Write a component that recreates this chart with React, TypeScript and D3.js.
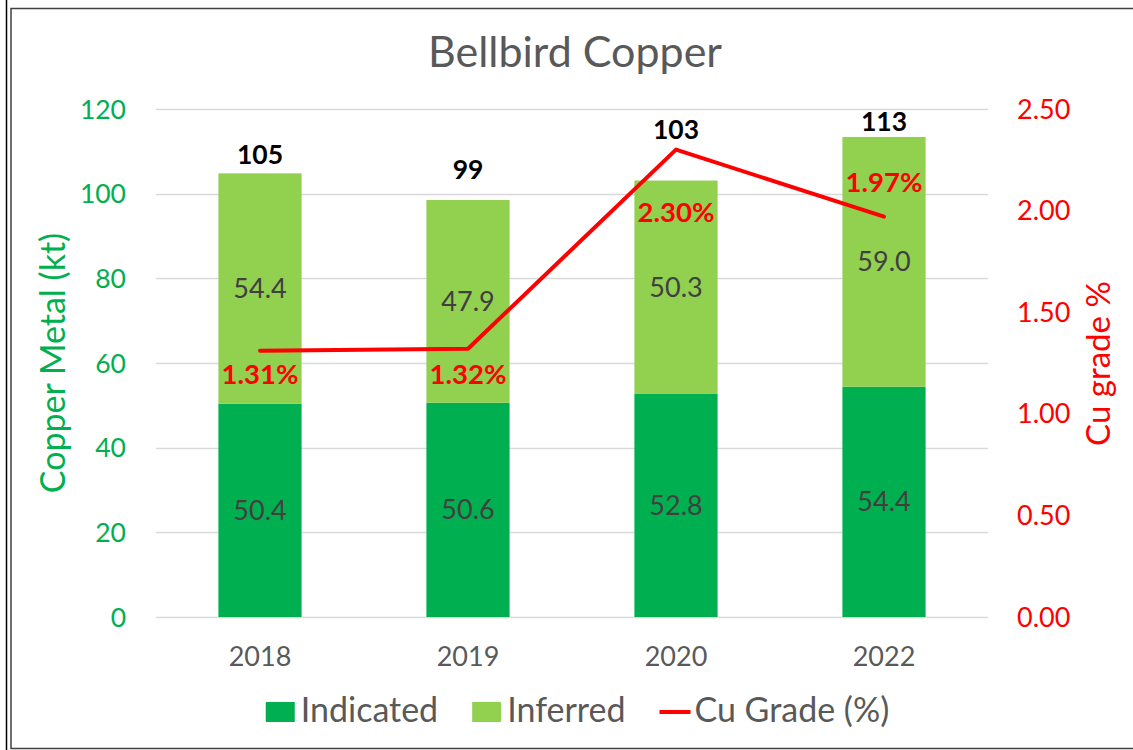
import React from 'react';
import * as d3 from 'd3';

const years = ['2018', '2019', '2020', '2022'];
const indicated = [50.4, 50.6, 52.8, 54.4];
const inferred = [54.4, 47.9, 50.3, 59.0];
const totals = [105, 99, 103, 113];
const grade = [1.31, 1.32, 2.3, 1.97];
const leftTicks = [0, 20, 40, 60, 80, 100, 120];
const rightTicks = [0, 0.5, 1, 1.5, 2, 2.5];
const seriesNames = ['Indicated', 'Inferred', 'Cu Grade (%)'];
// label anchors (data units) as they were hand-placed in the source chart
const totalLabelAt = [107.0, 103.5, 112.9, 114.8];
const gradeLabelAt = [1.147, 1.147, 1.944, 2.092];

const W = 1133;
const H = 750;
const FONT = "Lato, 'Open Sans', 'DejaVu Sans', sans-serif";
const C_IND = '#00B050';
const C_INF = '#92D050';
const C_LINE = '#FF0000';
const C_GRID = '#D9D9D9';
const C_TEXT = '#595959';
const C_SEG = '#404040';

const plot = { left: 156, right: 988, top: 109, bottom: 617 };

function measure(text: string, font: string): number {
  const c = document.createElement('canvas');
  const ctx = c.getContext('2d');
  if (!ctx) return text.length * 15;
  ctx.font = font;
  return ctx.measureText(text).width;
}

export default function App() {
  const x = d3
    .scaleBand<string>()
    .domain(years)
    .range([plot.left, plot.right])
    .paddingInner(0.6)
    .paddingOuter(0.3);
  const yL = d3.scaleLinear().domain([0, 120]).range([plot.bottom, plot.top]);
  const yR = d3.scaleLinear().domain([0, 2.5]).range([plot.bottom, plot.top]);
  const cx = (i: number) => (x(years[i]) as number) + x.bandwidth() / 2;

  const linePath = d3
    .line<number>()
    .x((_, i) => cx(i))
    .y((d) => yR(d))(grade) as string;

  // legend layout
  const legendFontSize = 34;
  const legendFont = `${legendFontSize}px Lato`;
  const sw = 29;
  const gapSwText = 6;
  const gapEntries = 34;
  const widths = seriesNames.map((n) => sw + gapSwText + measure(n, legendFont));
  const totalW = widths.reduce((a, b) => a + b, 0) + gapEntries * (seriesNames.length - 1);
  let lx = 577.5 - totalW / 2;
  const legendX: number[] = [];
  widths.forEach((w) => {
    legendX.push(lx);
    lx += w + gapEntries;
  });
  const legendBase = 722;

  return (
    <svg
      width={W}
      height={H}
      viewBox={`0 0 ${W} ${H}`}
      style={{ position: 'fixed', left: 0, top: 0, display: 'block', background: '#fff' }}
      fontFamily={FONT}
    >
      <rect x={0} y={0} width={W} height={H} fill="#fff" />
      {/* frame */}
      <line x1={6.5} y1={0} x2={6.5} y2={H} stroke="#000" strokeWidth={1.5} />
      <rect x={11} y={8.5} width={W + 20} height={740} fill="none" stroke="#404040" strokeWidth={1.5} />

      {/* title */}
      <text x={575} y={67} textAnchor="middle" fontSize={43} fill={C_TEXT}>
        Bellbird Copper
      </text>

      {/* gridlines */}
      {leftTicks.map((t) => (
        <line
          key={'g' + t}
          x1={plot.left}
          x2={plot.right}
          y1={Math.round(yL(t)) + 0.5}
          y2={Math.round(yL(t)) + 0.5}
          stroke={C_GRID}
          strokeWidth={1.3}
        />
      ))}

      {/* bars */}
      {years.map((yr, i) => (
        <g key={'b' + yr}>
          <rect
            x={x(yr)}
            width={x.bandwidth()}
            y={yL(indicated[i])}
            height={yL(0) - yL(indicated[i])}
            fill={C_IND}
          />
          <rect
            x={x(yr)}
            width={x.bandwidth()}
            y={yL(indicated[i] + inferred[i])}
            height={yL(indicated[i]) - yL(indicated[i] + inferred[i])}
            fill={C_INF}
          />
        </g>
      ))}

      {/* segment labels */}
      {years.map((yr, i) => (
        <g key={'sl' + yr} fontSize={27} fill={C_SEG} textAnchor="middle">
          <text x={cx(i)} y={(yL(0) + yL(indicated[i])) / 2 + 9.5}>
            {indicated[i].toFixed(1)}
          </text>
          <text x={cx(i)} y={(yL(indicated[i]) + yL(indicated[i] + inferred[i])) / 2 + 9.5}>
            {inferred[i].toFixed(1)}
          </text>
        </g>
      ))}

      {/* grade line */}
      <path d={linePath} fill="none" stroke={C_LINE} strokeWidth={4} strokeLinejoin="round" strokeLinecap="round" />

      {/* total labels */}
      {years.map((yr, i) => (
        <text
          key={'t' + yr}
          x={cx(i)}
          y={yL(totalLabelAt[i])}
          textAnchor="middle"
          fontSize={26.5}
          fontWeight={700}
          fill="#000"
        >
          {totals[i]}
        </text>
      ))}

      {/* grade labels */}
      {years.map((yr, i) => (
        <text
          key={'p' + yr}
          x={cx(i)}
          y={yR(gradeLabelAt[i])}
          textAnchor="middle"
          fontSize={27.5}
          fontWeight={700}
          fill={C_LINE}
        >
          {grade[i].toFixed(2) + '%'}
        </text>
      ))}

      {/* left axis ticks */}
      {leftTicks.map((t) => (
        <text key={'lt' + t} x={126} y={yL(t) + 9.5} textAnchor="end" fontSize={26.5} fill={C_IND}>
          {t}
        </text>
      ))}
      {/* right axis ticks */}
      {rightTicks.map((t) => (
        <text key={'rt' + t} x={1017} y={yR(t) + 9.5} textAnchor="start" fontSize={27} fill={C_LINE}>
          {t.toFixed(2)}
        </text>
      ))}
      {/* x axis labels */}
      {years.map((yr, i) => (
        <text key={'x' + yr} x={cx(i)} y={666} textAnchor="middle" fontSize={27} fill={C_TEXT}>
          {yr}
        </text>
      ))}

      {/* axis titles */}
      <text transform="translate(65,363) rotate(-90)" textAnchor="middle" fontSize={34} fill={C_IND}>
        Copper Metal (kt)
      </text>
      <text transform="translate(1110,363.5) rotate(-90)" textAnchor="middle" fontSize={33} fill={C_LINE}>
        Cu grade %
      </text>

      {/* legend */}
      <g fontSize={legendFontSize} fill={C_TEXT}>
        <rect x={legendX[0]} y={legendBase - 20} width={sw} height={20} fill={C_IND} />
        <text x={legendX[0] + sw + gapSwText} y={legendBase}>
          {seriesNames[0]}
        </text>
        <rect x={legendX[1]} y={legendBase - 20} width={sw} height={20} fill={C_INF} />
        <text x={legendX[1] + sw + gapSwText} y={legendBase}>
          {seriesNames[1]}
        </text>
        <line
          x1={legendX[2]}
          x2={legendX[2] + sw + 2}
          y1={legendBase - 10}
          y2={legendBase - 10}
          stroke={C_LINE}
          strokeWidth={4}
        />
        <text x={legendX[2] + sw + gapSwText} y={legendBase}>
          {seriesNames[2]}
        </text>
      </g>
    </svg>
  );
}
